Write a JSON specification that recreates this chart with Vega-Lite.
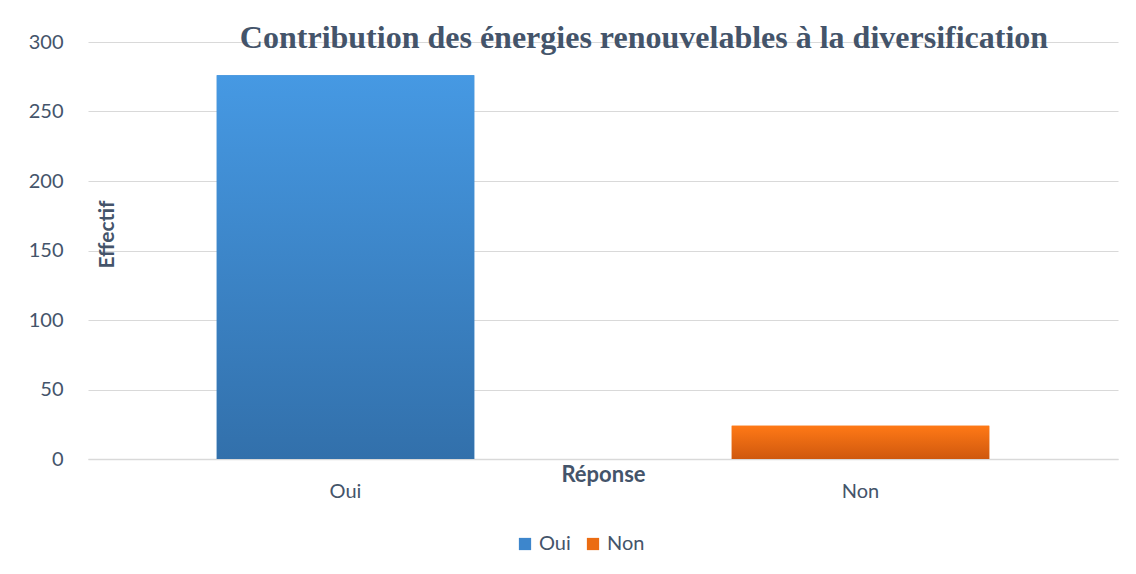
{
  "$schema": "https://vega.github.io/schema/vega-lite/v6.json",
  "width": 1030,
  "height": 417,
  "autosize": {"type": "none"},
  "padding": {"left": 88, "top": 42, "right": 18, "bottom": 115},
  "background": "white",
  "config": {"view": {"stroke": null}, "font": "Lato"},
  "title": {
    "text": "Contribution des énergies renouvelables à la diversification",
    "font": "Liberation Serif",
    "fontSize": 32,
    "fontWeight": "bold",
    "color": "#44546a",
    "anchor": "middle",
    "dx": 41,
    "offset": -23
  },
  "data": {
    "values": [
      {"reponse": "Oui", "effectif": 276},
      {"reponse": "Non", "effectif": 24}
    ]
  },
  "encoding": {
    "x": {
      "field": "reponse",
      "type": "nominal",
      "sort": ["Oui", "Non"],
      "scale": {"paddingInner": 0.5, "paddingOuter": 0.25},
      "axis": {
        "title": "Réponse",
        "titleFont": "Lato",
        "titleFontSize": 22,
        "titleFontWeight": "bold",
        "titleColor": "#44546a",
        "titleY": 15,
        "titleBaseline": "middle",
        "labelAngle": 0,
        "labelFont": "Lato",
        "labelFontSize": 20,
        "labelColor": "#44546a",
        "labelPadding": 22,
        "ticks": false,
        "domainColor": "#d9d9d9",
        "domainWidth": 1.5,
        "grid": false
      }
    },
    "y": {
      "field": "effectif",
      "type": "quantitative",
      "scale": {"domain": [0, 300]},
      "axis": {
        "values": [0, 50, 100, 150, 200, 250, 300],
        "title": "Effectif",
        "titleFont": "Lato",
        "titleFontSize": 21,
        "titleFontWeight": "bold",
        "titleColor": "#44546a",
        "titleX": 19,
        "titleY": 192,
        "titleAlign": "center",
        "titleBaseline": "middle",
        "labelFont": "Lato",
        "labelFontSize": 20,
        "labelColor": "#44546a",
        "labelPadding": 25,
        "ticks": false,
        "domain": false,
        "grid": true,
        "gridColor": "#d9d9d9",
        "gridWidth": 1
      }
    }
  },
  "layer": [
    {
      "mark": {"type": "bar"},
      "encoding": {
        "color": {
          "field": "reponse",
          "type": "nominal",
          "scale": {"domain": ["Oui", "Non"], "range": ["#3d86cc", "#eb6c12"]},
          "legend": {
            "title": null,
            "orient": "none",
            "direction": "horizontal",
            "legendX": 427,
            "legendY": 492,
            "symbolType": "square",
            "symbolSize": 150,
            "symbolStrokeWidth": 0,
            "labelFont": "Lato",
            "labelFontSize": 20,
            "labelColor": "#44546a",
            "labelOffset": 4,
            "columnPadding": 12
          }
        }
      }
    },
    {
      "transform": [{"filter": "datum.reponse === 'Oui'"}],
      "mark": {
        "type": "bar",
        "fill": {
          "gradient": "linear", "x1": 0, "y1": 0, "x2": 0, "y2": 1,
          "stops": [{"offset": 0, "color": "#4699e3"}, {"offset": 1, "color": "#3270ab"}]
        }
      }
    },
    {
      "transform": [{"filter": "datum.reponse === 'Non'"}],
      "mark": {
        "type": "bar",
        "fill": {
          "gradient": "linear", "x1": 0, "y1": 0, "x2": 0, "y2": 1,
          "stops": [{"offset": 0, "color": "#ff7916"}, {"offset": 1, "color": "#cf580e"}]
        }
      }
    }
  ]
}
